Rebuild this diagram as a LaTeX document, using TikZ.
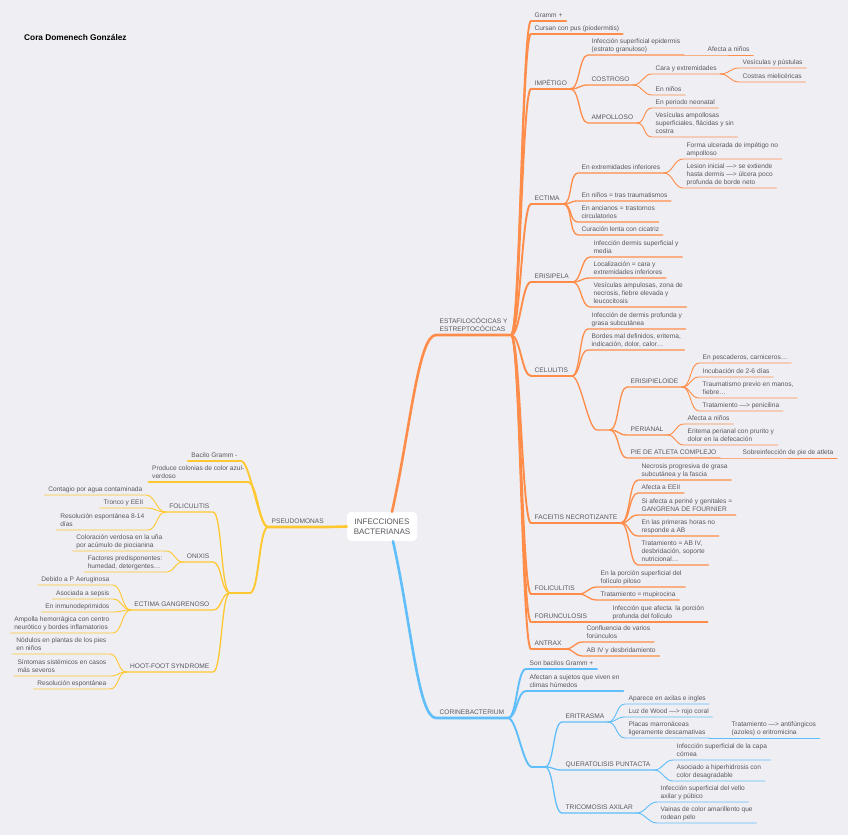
\documentclass[tikz,border=0pt]{standalone}
\usepackage{fontspec}
\setmainfont{Liberation Sans}
\definecolor{paper}{RGB}{239,238,243}
\definecolor{ink}{RGB}{88,88,94}
\definecolor{estaf}{RGB}{255,140,72}
\definecolor{pseudo}{RGB}{255,200,48}
\definecolor{corine}{RGB}{96,190,250}
\tikzset{
  rlink/.style={to path={.. controls +(9,0) and +(-9,0) .. (\tikztotarget)}},
  llink/.style={to path={.. controls +(-9,0) and +(9,0) .. (\tikztotarget)}},
  w1/.style={line width=2.6pt},
  w2/.style={line width=1.9pt},
  w3/.style={line width=1.3pt},
  w4/.style={line width=0.9pt}
}
\begin{document}
\begin{tikzpicture}
[x=1pt, y=-1pt, line cap=round, line join=round,
 nodes={font=\fontsize{6.6}{8}\selectfont, text=ink, align=left, inner xsep=3.5pt, inner ysep=1.6pt, text depth=1.6pt},
 r/.style={anchor=south west}, l/.style={anchor=south east}]
\fill[paper] (0,0) rectangle (848,835);
\useasboundingbox (0,0) rectangle (848,835);

\node[font=\bfseries\fontsize{8.3}{10}\selectfont, text=black, anchor=west, inner sep=0pt, text depth=0pt] (AUT) at (24,37) {Cora Domenech González};
\node[fill=white, rounded corners=4pt, align=center, minimum width=70pt, minimum height=29pt, font=\fontsize{8}{9.5}\selectfont, text depth=0pt] (CTR) at (382,526.5) {INFECCIONES\\BACTERIANAS};

% estafilococicas y estreptococicas
\node[r] (EST) at (436,335) {ESTAFILOCÓCICAS Y\\ESTREPTOCÓCICAS};
\node[r] (GRA) at (531,21) {Gramm +};
\node[r] (PUS) at (531,34) {Cursan con pus (piodermitis)};
\node[r] (IMP) at (531,89) {IMPÉTIGO};
\node[r] (IMP1) at (588,55) {Infección superficial epidermis\\(estrato granuloso)};
\node[r] (IMP1A) at (704,55) {Afecta a niños};
\node[r] (COS) at (588,85) {COSTROSO};
\node[r] (COS1) at (652,74) {Cara y extremidades};
\node[r] (COS1A) at (739,68) {Vesículas y pústulas};
\node[r] (COS1B) at (739,82) {Costras mielicéricas};
\node[r] (COS2) at (652,95) {En niños};
\node[r] (AMP) at (588,123) {AMPOLLOSO};
\node[r] (AMP1) at (652,108) {En periodo neonatal};
\node[r] (AMP2) at (652,137) {Vesículas ampollosas\\superficiales, flácidas y sin\\costra};
\node[r] (ECT) at (531,204) {ECTIMA};
\node[r] (ECT1) at (578,173) {En extremidades inferiores};
\node[r] (ECT1A) at (683,159) {Forma ulcerada de impétigo no\\ampolloso};
\node[r] (ECT1B) at (683,188) {Lesion inicial —> se extiende\\hasta dermis —> úlcera poco\\profunda de borde neto};
\node[r] (ECT2) at (578,201) {En niños = tras traumatismos};
\node[r] (ECT3) at (578,222) {En ancianos = trastornos\\circulatorios};
\node[r] (ECT4) at (578,235) {Curación lenta con cicatriz};
\node[r] (ERI) at (531,282) {ERISIPELA};
\node[r] (ERI1) at (590,257) {Infección dermis superficial y\\media};
\node[r] (ERI2) at (590,278) {Localización = cara y\\extremidades inferiores};
\node[r] (ERI3) at (590,307) {Vesículas ampulosas, zona de\\necrosis, fiebre elevada y\\leucocitosis};
\node[r] (CEL) at (531,376) {CELULITIS};
\node[r] (CEL1) at (588,329) {Infección de dermis profunda y\\grasa subcutánea};
\node[r] (CEL2) at (588,350) {Bordes mal definidos, eritema,\\indicación, dolor, calor…};
\coordinate (JCa) at (597,430);
\coordinate (JCb) at (610,430);
\node[r] (ERP) at (627,387) {ERISIPIELOIDE};
\node[r] (ERP1) at (699,363) {En pescaderos, carniceros…};
\node[r] (ERP2) at (699,377) {Incubación de 2-6 días};
\node[r] (ERP3) at (699,398) {Traumatismo previo en manos,\\fiebre…};
\node[r] (ERP4) at (699,411) {Tratamiento —> penicilina};
\node[r] (PER) at (627,435) {PERIANAL};
\node[r] (PER1) at (684,424) {Afecta a niños};
\node[r] (PER2) at (684,445) {Eritema perianal con prurito y\\dolor en la defecación};
\node[r] (PIE) at (627,458) {PIE DE ATLETA COMPLEJO};
\node[r] (PIE1) at (739,458) {Sobreinfección de pie de atleta};
\node[r] (FAC) at (531,523) {FACEITIS NECROTIZANTE};
\node[r] (FAC1) at (638,480) {Necrosis progresiva de grasa\\subcutánea y la fascia};
\node[r] (FAC2) at (638,493) {Afecta a EEII};
\node[r] (FAC3) at (638,515) {Si afecta a periné y genitales =\\GANGRENA DE FOURNIER};
\node[r] (FAC4) at (638,536) {En las primeras horas no\\responde a AB};
\node[r] (FAC5) at (638,565) {Tratamiento = AB IV,\\desbridación, soporte\\nutricional…};
\node[r] (FOL) at (531,594) {FOLICULITIS};
\node[r] (FOL1) at (597,587) {En la porción superficial del\\folículo piloso};
\node[r] (FOL2) at (597,600) {Tratamiento = mupirocina};
\node[r] (FOR) at (531,622) {FORUNCULOSIS};
\node[r] (FOR1) at (609,622) {Infección que afecta\ \ la porción\\profunda del folículo};
\node[r] (ANT) at (531,649) {ANTRAX};
\node[r] (ANT1) at (583,642) {Confluencia de varios\\forúnculos};
\node[r] (ANT2) at (583,656) {AB IV y desbridamiento};

% corinebacterium
\node[r] (COR) at (436,718) {CORINEBACTERIUM};
\node[r] (COR1) at (526,669) {Son bacilos Gramm +};
\node[r] (COR2) at (526,691) {Afectan a sujetos que viven en\\climas húmedos};
\coordinate (JBa) at (532,767);
\coordinate (JBb) at (545,767);
\node[r] (ERT) at (562,722) {ERITRASMA};
\node[r] (ERT1) at (625,704) {Aparece en axilas e ingles};
\node[r] (ERT2) at (625,717) {Luz de Wood —> rojo coral};
\node[r] (ERT3) at (625,738) {Placas marronáceas\\ligeramente descamativas};
\node[r] (ERT3A) at (728,738) {Tratamiento —> antifúngicos\\(azoles) o eritromicina};
\node[r] (QUE) at (562,770) {QUERATOLISIS PUNTACTA};
\node[r] (QUE1) at (673,760) {Infección superficial de la capa\\córnea};
\node[r] (QUE2) at (673,781) {Asociado a hiperhidrosis con\\color desagradable};
\node[r] (TRI) at (562,813) {TRICOMOSIS AXILAR};
\node[r] (TRI1) at (657,802) {Infección superficial del vello\\axilar y púbico};
\node[r] (TRI2) at (657,823) {Vainas de color amarillento que\\rodean pelo};

% pseudomonas
\node[r] (PSE) at (268,527) {PSEUDOMONAS};
\node[l] (BAC) at (241,461) {Bacilo Gramm -};
\node[l] (PRO) at (248,482) {Produce colonias de color azul-\\verdoso};
\coordinate (JYa) at (250,593);
\coordinate (JYb) at (230,593);
\node[l] (FOY) at (213,512) {FOLICULITIS};
\node[l] (FOY1) at (146,495) {Contagio por agua contaminada};
\node[l] (FOY2) at (147,508) {Tronco y EEII};
\node[l] (FOY3) at (148,530) {Resolución espontánea 8-14\\días};
\node[l] (ONI) at (213,562) {ONIXIS};
\node[l] (ONI1) at (166,551) {Coloración verdosa en la uña\\por acúmulo de piocianina};
\node[l] (ONI2) at (166,572) {Factores predisponentes:\\humedad, detergentes…};
\node[l] (ECG) at (213,610) {ECTIMA GANGRENOSO};
\node[l] (ECG1) at (113,585) {Debido a P Aeruginosa};
\node[l] (ECG2) at (113,599) {Asociada a sepsis};
\node[l] (ECG3) at (113,612) {En inmunodeprimidos};
\node[l] (ECG4) at (113,633) {Ampolla hemorrágica con centro\\neurótico y bordes inflamatorios};
\node[l] (HOT) at (213,672) {HOOT-FOOT SYNDROME};
\node[l] (HOT1) at (110,654) {Nódulos en plantas de los pies\\en niños};
\node[l] (HOT2) at (110,676) {Síntomas sistémicos en casos\\más severos};
\node[l] (HOT3) at (110,689) {Resolución espontánea};

% orange branch
\draw[estaf, w1] ([xshift=10pt]CTR.north) .. controls +(18,-80) and +(-18,0) .. (EST.south west) -- (EST.south east);
\draw[estaf, w2] (EST.south east) to[rlink] (GRA.south west) -- (GRA.south east);
\draw[estaf, w2] (EST.south east) to[rlink] (PUS.south west) -- (PUS.south east);
\draw[estaf, w2] (EST.south east) to[rlink] (IMP.south west) -- (IMP.south east);
\draw[estaf, w2] (EST.south east) to[rlink] (ECT.south west) -- (ECT.south east);
\draw[estaf, w2] (EST.south east) to[rlink] (ERI.south west) -- (ERI.south east);
\draw[estaf, w2] (EST.south east) to[rlink] (CEL.south west) -- (CEL.south east);
\draw[estaf, w2] (EST.south east) to[rlink] (FAC.south west) -- (FAC.south east);
\draw[estaf, w2] (EST.south east) to[rlink] (FOL.south west) -- (FOL.south east);
\draw[estaf, w2] (EST.south east) to[rlink] (FOR.south west) -- (FOR.south east);
\draw[estaf, w2] (EST.south east) to[rlink] (ANT.south west) -- (ANT.south east);
\draw[estaf, w3] (IMP.south east) to[rlink] (IMP1.south west) -- (IMP1.south east);
\draw[estaf, w3] (IMP.south east) to[rlink] (COS.south west) -- (COS.south east);
\draw[estaf, w3] (IMP.south east) to[rlink] (AMP.south west) -- (AMP.south east);
\draw[estaf, w4] (IMP1.south east) -- (IMP1A.south west) -- (IMP1A.south east);
\draw[estaf, w4] (COS.south east) to[rlink] (COS1.south west) -- (COS1.south east);
\draw[estaf, w4] (COS.south east) to[rlink] (COS2.south west) -- (COS2.south east);
\draw[estaf, w4] (COS1.south east) to[rlink] (COS1A.south west) -- (COS1A.south east);
\draw[estaf, w4] (COS1.south east) to[rlink] (COS1B.south west) -- (COS1B.south east);
\draw[estaf, w4] (AMP.south east) to[rlink] (AMP1.south west) -- (AMP1.south east);
\draw[estaf, w4] (AMP.south east) to[rlink] (AMP2.south west) -- (AMP2.south east);
\draw[estaf, w3] (ECT.south east) to[rlink] (ECT1.south west) -- (ECT1.south east);
\draw[estaf, w3] (ECT.south east) to[rlink] (ECT2.south west) -- (ECT2.south east);
\draw[estaf, w3] (ECT.south east) to[rlink] (ECT3.south west) -- (ECT3.south east);
\draw[estaf, w3] (ECT.south east) to[rlink] (ECT4.south west) -- (ECT4.south east);
\draw[estaf, w4] (ECT1.south east) to[rlink] (ECT1A.south west) -- (ECT1A.south east);
\draw[estaf, w4] (ECT1.south east) to[rlink] (ECT1B.south west) -- (ECT1B.south east);
\draw[estaf, w3] (ERI.south east) to[rlink] (ERI1.south west) -- (ERI1.south east);
\draw[estaf, w3] (ERI.south east) to[rlink] (ERI2.south west) -- (ERI2.south east);
\draw[estaf, w3] (ERI.south east) to[rlink] (ERI3.south west) -- (ERI3.south east);
\draw[estaf, w3] (CEL.south east) to[rlink] (CEL1.south west) -- (CEL1.south east);
\draw[estaf, w3] (CEL.south east) to[rlink] (CEL2.south west) -- (CEL2.south east);
\draw[estaf, w3] (CEL.south east) to[rlink] (JCa) -- (JCb);
\draw[estaf, w3] (JCb) to[rlink] (ERP.south west) -- (ERP.south east);
\draw[estaf, w3] (JCb) to[rlink] (PER.south west) -- (PER.south east);
\draw[estaf, w3] (JCb) to[rlink] (PIE.south west) -- (PIE.south east);
\draw[estaf, w4] (ERP.south east) to[rlink] (ERP1.south west) -- (ERP1.south east);
\draw[estaf, w4] (ERP.south east) to[rlink] (ERP2.south west) -- (ERP2.south east);
\draw[estaf, w4] (ERP.south east) to[rlink] (ERP3.south west) -- (ERP3.south east);
\draw[estaf, w4] (ERP.south east) to[rlink] (ERP4.south west) -- (ERP4.south east);
\draw[estaf, w4] (PER.south east) to[rlink] (PER1.south west) -- (PER1.south east);
\draw[estaf, w4] (PER.south east) to[rlink] (PER2.south west) -- (PER2.south east);
\draw[estaf, w4] (PIE.south east) -- (PIE1.south west) -- (PIE1.south east);
\draw[estaf, w3] (FAC.south east) to[rlink] (FAC1.south west) -- (FAC1.south east);
\draw[estaf, w3] (FAC.south east) to[rlink] (FAC2.south west) -- (FAC2.south east);
\draw[estaf, w3] (FAC.south east) to[rlink] (FAC3.south west) -- (FAC3.south east);
\draw[estaf, w3] (FAC.south east) to[rlink] (FAC4.south west) -- (FAC4.south east);
\draw[estaf, w3] (FAC.south east) to[rlink] (FAC5.south west) -- (FAC5.south east);
\draw[estaf, w3] (FOL.south east) to[rlink] (FOL1.south west) -- (FOL1.south east);
\draw[estaf, w3] (FOL.south east) to[rlink] (FOL2.south west) -- (FOL2.south east);
\draw[estaf, w3] (FOR.south east) -- (FOR1.south west) -- (FOR1.south east);
\draw[estaf, w3] (ANT.south east) to[rlink] (ANT1.south west) -- (ANT1.south east);
\draw[estaf, w3] (ANT.south east) to[rlink] (ANT2.south west) -- (ANT2.south east);

% blue branch
\draw[corine, w1] ([xshift=11pt]CTR.south) .. controls +(18,80) and +(-18,0) .. (COR.south west) -- (COR.south east);
\draw[corine, w2] (COR.south east) to[rlink] (COR1.south west) -- (COR1.south east);
\draw[corine, w2] (COR.south east) to[rlink] (COR2.south west) -- (COR2.south east);
\draw[corine, w2] (COR.south east) to[rlink] (JBa) -- (JBb);
\draw[corine, w3] (JBb) to[rlink] (ERT.south west) -- (ERT.south east);
\draw[corine, w3] (JBb) to[rlink] (QUE.south west) -- (QUE.south east);
\draw[corine, w3] (JBb) to[rlink] (TRI.south west) -- (TRI.south east);
\draw[corine, w4] (ERT.south east) to[rlink] (ERT1.south west) -- (ERT1.south east);
\draw[corine, w4] (ERT.south east) to[rlink] (ERT2.south west) -- (ERT2.south east);
\draw[corine, w4] (ERT.south east) to[rlink] (ERT3.south west) -- (ERT3.south east);
\draw[corine, w4] (ERT3.south east) -- (ERT3A.south west) -- (ERT3A.south east);
\draw[corine, w4] (QUE.south east) to[rlink] (QUE1.south west) -- (QUE1.south east);
\draw[corine, w4] (QUE.south east) to[rlink] (QUE2.south west) -- (QUE2.south east);
\draw[corine, w4] (TRI.south east) to[rlink] (TRI1.south west) -- (TRI1.south east);
\draw[corine, w4] (TRI.south east) to[rlink] (TRI2.south west) -- (TRI2.south east);

% yellow branch
\draw[pseudo, w1] (CTR.west) -- (PSE.south east) -- (PSE.south west);
\draw[pseudo, w2] (PSE.south west) to[llink] (BAC.south east) -- (BAC.south west);
\draw[pseudo, w2] (PSE.south west) to[llink] (PRO.south east) -- (PRO.south west);
\draw[pseudo, w2] (PSE.south west) to[llink] (JYa) -- (JYb);
\draw[pseudo, w3] (JYb) to[llink] (FOY.south east) -- (FOY.south west);
\draw[pseudo, w3] (JYb) to[llink] (ONI.south east) -- (ONI.south west);
\draw[pseudo, w3] (JYb) to[llink] (ECG.south east) -- (ECG.south west);
\draw[pseudo, w3] (JYb) to[llink] (HOT.south east) -- (HOT.south west);
\draw[pseudo, w4] (FOY.south west) to[llink] (FOY1.south east) -- (FOY1.south west);
\draw[pseudo, w4] (FOY.south west) to[llink] (FOY2.south east) -- (FOY2.south west);
\draw[pseudo, w4] (FOY.south west) to[llink] (FOY3.south east) -- (FOY3.south west);
\draw[pseudo, w4] (ONI.south west) to[llink] (ONI1.south east) -- (ONI1.south west);
\draw[pseudo, w4] (ONI.south west) to[llink] (ONI2.south east) -- (ONI2.south west);
\draw[pseudo, w4] (ECG.south west) to[llink] (ECG1.south east) -- (ECG1.south west);
\draw[pseudo, w4] (ECG.south west) to[llink] (ECG2.south east) -- (ECG2.south west);
\draw[pseudo, w4] (ECG.south west) to[llink] (ECG3.south east) -- (ECG3.south west);
\draw[pseudo, w4] (ECG.south west) to[llink] (ECG4.south east) -- (ECG4.south west);
\draw[pseudo, w4] (HOT.south west) to[llink] (HOT1.south east) -- (HOT1.south west);
\draw[pseudo, w4] (HOT.south west) to[llink] (HOT2.south east) -- (HOT2.south west);
\draw[pseudo, w4] (HOT.south west) to[llink] (HOT3.south east) -- (HOT3.south west);
\end{tikzpicture}
\end{document}
